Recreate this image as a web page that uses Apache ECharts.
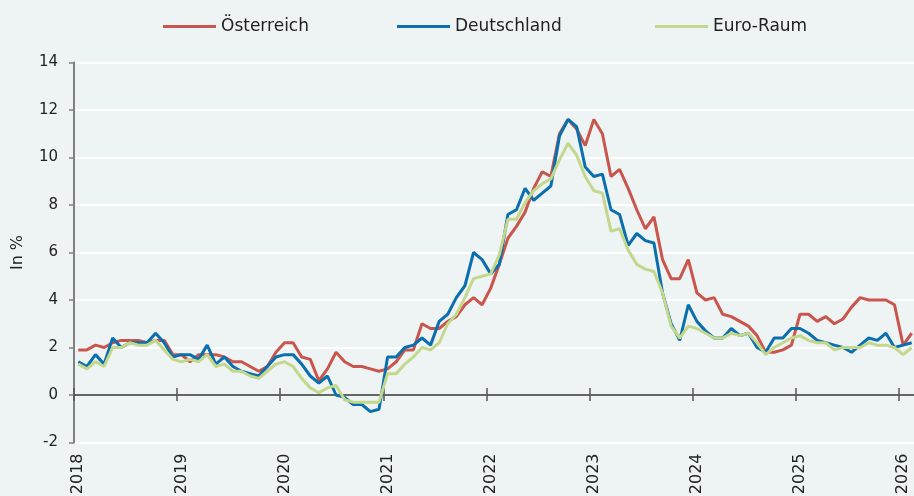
<!DOCTYPE html>
<html>
<head>
<meta charset="utf-8">
<script src="https://cdn.jsdelivr.net/npm/echarts@6/dist/echarts.min.js"></script>
<style>
  html, body { margin: 0; padding: 0; background: #eef4f4; }
  #chart { width: 914px; height: 496px; }
</style>
</head>
<body>
<div id="chart"></div>
<script>
// monthly values, Jan 2018 .. Feb 2026 (in %)
var oesterreich = [
  1.9, 1.9, 2.1, 2.0, 2.2, 2.3, 2.3, 2.3, 2.2, 2.3, 2.3, 1.7,
  1.7, 1.4, 1.7, 1.7, 1.7, 1.6, 1.4, 1.4, 1.2, 1.0, 1.2, 1.8,
  2.2, 2.2, 1.6, 1.5, 0.6, 1.1, 1.8, 1.4, 1.2, 1.2, 1.1, 1.0,
  1.1, 1.4, 1.9, 1.9, 3.0, 2.8, 2.8, 3.1, 3.3, 3.8, 4.1, 3.8,
  4.5, 5.5, 6.6, 7.1, 7.7, 8.7, 9.4, 9.2, 11.0, 11.6, 11.2, 10.5,
  11.6, 11.0, 9.2, 9.5, 8.7, 7.8, 7.0, 7.5, 5.7, 4.9, 4.9, 5.7,
  4.3, 4.0, 4.1, 3.4, 3.3, 3.1, 2.9, 2.5, 1.8, 1.8, 1.9, 2.1,
  3.4, 3.4, 3.1, 3.3, 3.0, 3.2, 3.7, 4.1, 4.0, 4.0, 4.0, 3.8,
  2.1, 2.6
];
var deutschland = [
  1.4, 1.2, 1.7, 1.3, 2.4, 2.0, 2.2, 2.2, 2.2, 2.6, 2.2, 1.6,
  1.7, 1.7, 1.5, 2.1, 1.3, 1.6, 1.2, 1.0, 0.9, 0.8, 1.2, 1.6,
  1.7, 1.7, 1.3, 0.8, 0.5, 0.8, 0.0, -0.1, -0.4, -0.4, -0.7, -0.6,
  1.6, 1.6, 2.0, 2.1, 2.4, 2.1, 3.1, 3.4, 4.1, 4.6, 6.0, 5.7,
  5.1, 5.5, 7.6, 7.8, 8.7, 8.2, 8.5, 8.8, 10.9, 11.6, 11.3, 9.6,
  9.2, 9.3, 7.8, 7.6, 6.3, 6.8, 6.5, 6.4, 4.3, 3.0, 2.3, 3.8,
  3.1, 2.7, 2.4, 2.4, 2.8, 2.5, 2.6, 2.0, 1.8, 2.4, 2.4, 2.8,
  2.8, 2.6, 2.3, 2.2, 2.1, 2.0, 1.8, 2.1, 2.4, 2.3, 2.6, 2.0,
  2.1, 2.2
];
var euroRaum = [
  1.3, 1.1, 1.4, 1.2, 2.0, 2.0, 2.2, 2.1, 2.1, 2.3, 1.9, 1.5,
  1.4, 1.5, 1.4, 1.7, 1.2, 1.3, 1.0, 1.0, 0.8, 0.7, 1.0, 1.3,
  1.4, 1.2, 0.7, 0.3, 0.1, 0.3, 0.4, -0.2, -0.3, -0.3, -0.3, -0.3,
  0.9, 0.9, 1.3, 1.6, 2.0, 1.9, 2.2, 3.0, 3.4, 4.1, 4.9, 5.0,
  5.1, 5.9, 7.4, 7.4, 8.1, 8.6, 8.9, 9.1, 9.9, 10.6, 10.1, 9.2,
  8.6, 8.5, 6.9, 7.0, 6.1, 5.5, 5.3, 5.2, 4.3, 2.9, 2.4, 2.9,
  2.8, 2.6, 2.4, 2.4, 2.6, 2.5, 2.6, 2.2, 1.7, 2.0, 2.2, 2.4,
  2.5, 2.3, 2.2, 2.2, 1.9, 2.0, 2.0, 2.0, 2.2, 2.1, 2.1, 2.0,
  1.7, 2.0
];
var seriesNames = ['Österreich', 'Deutschland', 'Euro-Raum'];
var yTicks = { min: -2, max: 14, step: 2 };

// month categories
var months = [];
for (var y = 2018; months.length < oesterreich.length; y++) {
  for (var m = 1; m <= 12 && months.length < oesterreich.length; m++) {
    months.push(y + '-' + (m < 10 ? '0' + m : m));
  }
}

var isJanuary = function (index) { return index % 12 === 0; };
var textColor = '#222';
var font = 'DejaVu Sans';

var chart = echarts.init(document.getElementById('chart'));
var option = {
  animation: false,
  backgroundColor: '#eef4f4',
  textStyle: { fontFamily: font, color: textColor },
  color: ['#c9564d', '#0b6fae', '#c3d88c'],
  legend: [
    { data: [seriesNames[0]], left: 163 },
    { data: [seriesNames[1]], left: 397 },
    { data: [seriesNames[2]], left: 655 }
  ].map(function (l) {
    l.top = 18;
    l.padding = 0;
    l.icon = 'rect';
    l.itemWidth = 53;
    l.itemHeight = 3;
    l.textStyle = { fontFamily: font, fontSize: 17, color: textColor };
    return l;
  }),
  grid: {
    left: 74, right: -2, top: 62.5, bottom: 53.5,
    outerBoundsMode: 'none', containLabel: false
  },
  xAxis: [
    {
      type: 'category', data: months, boundaryGap: true, position: 'bottom',
      axisLine: { show: false, onZero: false },
      axisTick: { show: false },
      axisLabel: {
        interval: isJanuary, rotate: 90, margin: 11,
        fontFamily: font, fontSize: 16, color: textColor,
        formatter: function (v) { return v.slice(0, 4); }
      },
      splitLine: { show: false }
    },
    {
      type: 'category', data: months, boundaryGap: true, position: 'bottom',
      axisLine: { show: true, onZero: true, onZeroAxisIndex: 0, lineStyle: { color: '#333', width: 1.5 } },
      axisTick: { show: true, interval: isJanuary, length: 6, lineStyle: { color: '#555', width: 1.5 } },
      axisLabel: { show: false },
      splitLine: { show: false }
    },
    {
      type: 'category', data: months, boundaryGap: true, position: 'bottom',
      axisLine: { show: false, onZero: true, onZeroAxisIndex: 0 },
      axisTick: { show: true, inside: true, interval: isJanuary, length: 7, lineStyle: { color: '#555', width: 1.5 } },
      axisLabel: { show: false },
      splitLine: { show: false }
    }
  ],
  yAxis: {
    type: 'value', min: yTicks.min, max: yTicks.max, interval: yTicks.step,
    name: 'In %', nameLocation: 'middle', nameGap: 48,
    nameTextStyle: { fontFamily: font, fontSize: 16, color: textColor },
    axisLine: { show: true, lineStyle: { color: '#808080', width: 2 } },
    axisTick: { show: true, length: 5, lineStyle: { color: '#808080', width: 1.5 } },
    axisLabel: { margin: 16, fontFamily: font, fontSize: 15, color: textColor },
    splitLine: { show: true, lineStyle: { color: '#ffffff', width: 2 } }
  },
  series: [oesterreich, deutschland, euroRaum].map(function (d, i) {
    return {
      name: seriesNames[i], type: 'line', data: d,
      showSymbol: false, symbol: 'none',
      lineStyle: { width: 3 }
    };
  })
};
chart.setOption(option);
</script>
</body>
</html>
